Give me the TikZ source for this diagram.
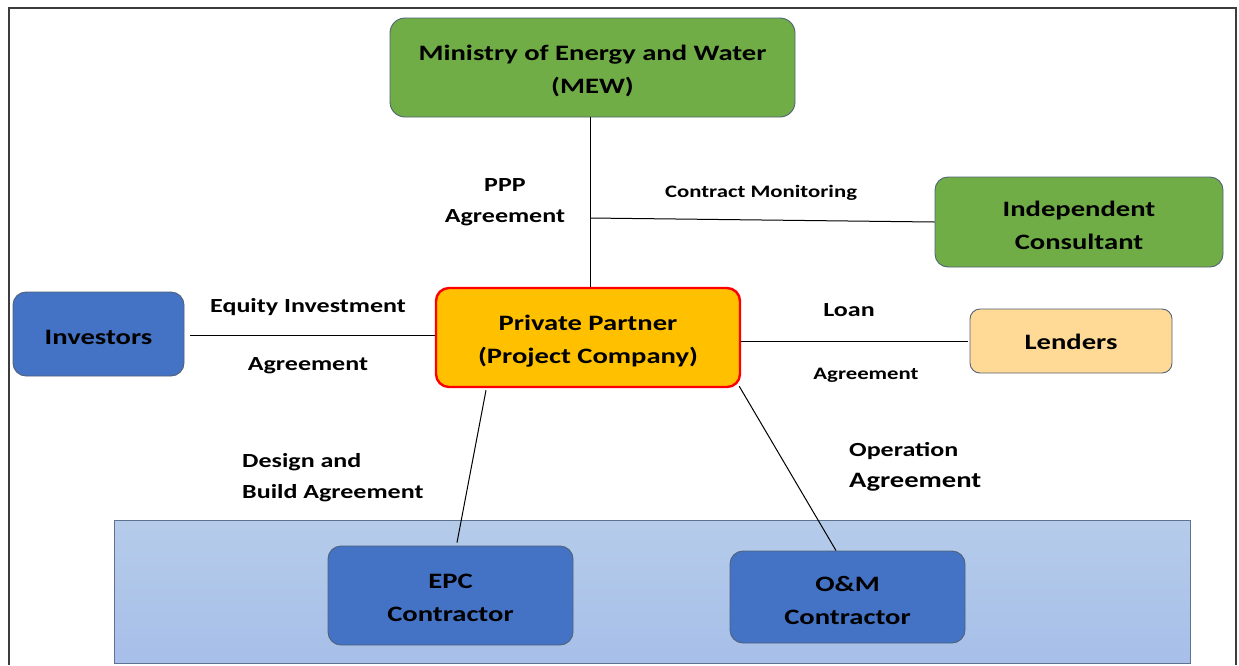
\documentclass[tikz,border=0pt]{standalone}
\usepackage{fontspec}
\setmainfont{Carlito}[FakeStretch=1.3]
\usetikzlibrary{calc}
\definecolor{mewgreen}{RGB}{112,173,71}
\definecolor{boxblue}{RGB}{68,114,196}
\definecolor{ppgold}{RGB}{255,192,0}
\definecolor{lendfill}{RGB}{255,217,150}
\definecolor{bandfill}{RGB}{174,199,232}
\definecolor{bandedge}{RGB}{95,115,145}
\definecolor{edgegray}{RGB}{80,98,118}
\definecolor{framegray}{RGB}{60,60,60}
\newcommand\topstrut{\rule{0pt}{22pt}}
\tikzset{
  box/.style={draw=edgegray, line width=0.9pt, rounded corners=13pt, align=center,
    font=\bfseries\fontsize{22}{33}\selectfont, inner sep=0pt},
  greenbox/.style={box, fill=mewgreen},
  bluebox/.style={box, fill=boxblue},
  lbl/.style={font=\bfseries\fontsize{20}{31}\selectfont, inner sep=0pt},
  slbl/.style={font=\bfseries\fontsize{17.5}{28}\selectfont, inner sep=0pt},
  conn/.style={draw=black, line width=1pt}
}
\begin{document}
\begin{tikzpicture}[x=1pt,y=-1pt]
\useasboundingbox (0,0) rectangle (1239,665);
\fill[white] (0,0) rectangle (1239,665);
% frame
\draw[framegray, line width=1.6pt] (9,665) -- (9,8) -- (1236,8) -- (1236,665);
% contractor band
\node[draw=bandedge, line width=0.9pt, top color=bandfill!92!white, bottom color=bandfill!96!blue,
  minimum width=1076pt, minimum height=143pt, inner sep=0pt] (band) at (652,591.5) {};
% nodes
\node[greenbox, minimum width=405pt, minimum height=99pt, rounded corners=15pt] (MEW) at (592.5,67.5)
  {\topstrut Ministry of Energy and Water\\(MEW)};
\node[greenbox, minimum width=288pt, minimum height=90pt] (IC) at (1079,222)
  {\topstrut Independent\\Consultant};
\node[bluebox, minimum width=171pt, minimum height=84pt] (Inv) at (98.5,334) {\topstrut Investors};
\node[box, draw=red, line width=2.4pt, fill=ppgold, minimum width=304pt, minimum height=99pt] (PP) at (588,337.5)
  {\topstrut Private Partner\\(Project Company)};
\node[box, fill=lendfill, minimum width=202pt, minimum height=64pt, rounded corners=10pt] (Lend) at (1071,341) {\rule{0pt}{18pt}Lenders};
\node[bluebox, minimum width=245pt, minimum height=99pt] (EPC) at (450.5,595.5) {\rule{0pt}{19pt}EPC\\Contractor};
\node[bluebox, minimum width=235pt, minimum height=92pt] (OM) at (847.5,597) {\topstrut O\&M\\Contractor};
% connectors
\coordinate (j) at (590,218);
\draw[conn] (MEW.south -| j) -- (PP.north -| j);
\draw[conn] (j) -- (IC.west);
\draw[conn] ($(Inv.east)+(6,1)$) -- ($(Inv.east -| PP.west)+(0,1)$);
\draw[conn] (Lend.west -| PP.east) -- ($(Lend.west)+(-2,0)$);
\draw[conn] ($(PP.south)+(-102,2)$) -- ($(EPC.north)+(6.5,-3)$);
\draw[conn] ($(PP.south east)+(-2,-2)$) -- ($(OM.north)+(-11.5,0)$);
% labels
\node[lbl, align=center] (lppp) at (505,202) {PPP\\Agreement};
\node[slbl] (lcm) at (761,193) {Contract Monitoring};
\node[lbl] (leq) at (308,307) {Equity Investment};
\node[lbl] (leqa) at (308,366) {Agreement};
\node[lbl] (lloan) at (849,310) {Loan};
\node[slbl] (lloana) at (866,375) {Agreement};
\node[lbl, align=left, anchor=west] (ldb) at (242,478) {Design and\\Build Agreement};
\node[lbl, align=left, anchor=west] (lop) at (849,467) {Operation\\{\fontsize{22}{31}\selectfont Agreement}};
\end{tikzpicture}
\end{document}
